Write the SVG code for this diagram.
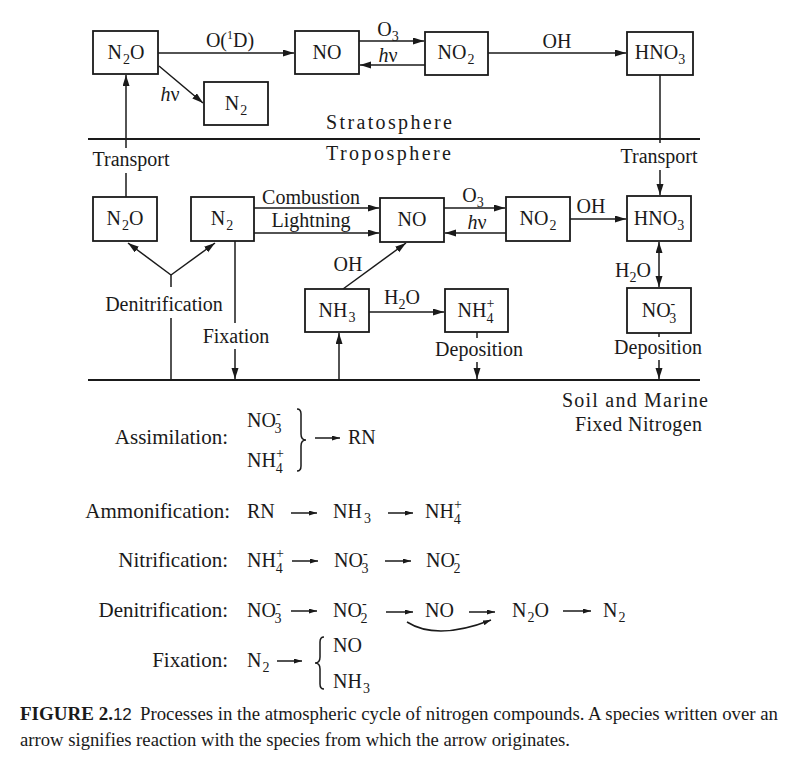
<svg xmlns="http://www.w3.org/2000/svg" width="800" height="784" viewBox="0 0 800 784">
<style>
.t{font-family:"Liberation Serif","Times New Roman",serif;font-size:20px;fill:#1a1a1a}
.lb{font-size:21px}
.m{text-anchor:middle}
.e{text-anchor:end}
.sb{font-size:14px}
.sp{font-size:14px}
.it{font-style:italic}
.box{fill:#fff;stroke:#1a1a1a;stroke-width:1.8}
.ln{fill:none;stroke:#1a1a1a;stroke-width:1.5}
.a{marker-end:url(#ah)}
.as{marker-start:url(#ah)}
.sa{marker-end:url(#sah)}
.hr{fill:none;stroke:#1a1a1a;stroke-width:2}
.cap{font-family:"Liberation Serif","Times New Roman",serif;font-size:19px;fill:#1a1a1a}
</style>
<defs>
<marker id="ah" markerUnits="userSpaceOnUse" markerWidth="12" markerHeight="8" refX="11" refY="3.5" orient="auto-start-reverse"><path d="M0,0 L11,3.5 L0,7 z" fill="#1a1a1a"/></marker>
<marker id="sah" markerUnits="userSpaceOnUse" markerWidth="9" markerHeight="6" refX="8" refY="2.5" orient="auto"><path d="M0,0 L8,2.5 L0,5 z" fill="#1a1a1a"/></marker>
</defs>
<rect width="800" height="784" fill="#fff"/>

<g id="connectors">
<line class="ln a" x1="158" y1="53" x2="294" y2="53"/>
<line class="ln a" x1="159" y1="66" x2="203" y2="103"/>
<line class="ln a" x1="359" y1="41" x2="424" y2="41"/>
<line class="ln a" x1="425" y1="65" x2="360" y2="65"/>
<line class="ln a" x1="488" y1="53" x2="626" y2="53"/>
<line class="ln" x1="660" y1="75" x2="660" y2="143"/>
<line class="ln a" x1="660" y1="170" x2="660" y2="195"/>
<line class="ln a" x1="126" y1="148" x2="126" y2="75"/>
<line class="ln" x1="126" y1="173" x2="126" y2="197"/>
<line class="hr" x1="88" y1="139" x2="700" y2="139"/>
<line class="ln a" x1="254" y1="208" x2="379" y2="208"/>
<line class="ln a" x1="254" y1="233" x2="379" y2="233"/>
<line class="ln a" x1="444" y1="208" x2="505" y2="208"/>
<line class="ln a" x1="506" y1="233" x2="445" y2="233"/>
<line class="ln a" x1="570" y1="219" x2="626" y2="219"/>
<line class="ln a as" x1="659" y1="242" x2="659" y2="287"/>
<line class="ln a" x1="171" y1="275" x2="128" y2="243"/>
<line class="ln a" x1="171" y1="275" x2="215" y2="243"/>
<line class="ln" x1="171" y1="275" x2="171" y2="287"/>
<line class="ln" x1="171" y1="318" x2="171" y2="380"/>
<line class="ln" x1="235" y1="241" x2="235" y2="323"/>
<line class="ln a" x1="235" y1="349" x2="235" y2="379"/>
<line class="ln a" x1="339" y1="380" x2="339" y2="333"/>
<line class="ln a" x1="343" y1="289" x2="406" y2="243"/>
<line class="ln a" x1="369" y1="312" x2="444" y2="312"/>
<line class="ln" x1="477" y1="332" x2="477" y2="338"/>
<line class="ln a" x1="477" y1="362" x2="477" y2="379"/>
<line class="ln" x1="659" y1="333" x2="659" y2="337"/>
<line class="ln a" x1="659" y1="360" x2="659" y2="379"/>
<line class="hr" x1="88" y1="380" x2="700" y2="380"/>
<path class="ln" d="M297,409 Q301,409 301,414 L301,434 Q301,440 306,440 Q301,440 301,446 L301,466 Q301,471 297,471" stroke-width="1.3"/>
<line class="ln sa" x1="315" y1="438" x2="340" y2="438"/>
<line class="ln sa" x1="291" y1="513" x2="317" y2="513"/>
<line class="ln sa" x1="388" y1="513" x2="413" y2="513"/>
<line class="ln sa" x1="292" y1="561" x2="318" y2="561"/>
<line class="ln sa" x1="385" y1="561" x2="411" y2="561"/>
<line class="ln sa" x1="291" y1="611" x2="317" y2="611"/>
<line class="ln sa" x1="386" y1="612" x2="413" y2="612"/>
<line class="ln sa" x1="469" y1="612" x2="495" y2="612"/>
<line class="ln sa" x1="563" y1="611" x2="591" y2="611"/>
<path class="ln sa" d="M407,622 Q437,641 491,620"/>
<line class="ln sa" x1="277" y1="661" x2="302" y2="661"/>
<path class="ln" d="M324,637 Q320,637 320,642 L320,657 Q320,663 315,663 Q320,663 320,669 L320,684 Q320,689 324,689" stroke-width="1.3"/>
</g>

<g id="labels">
<text class="t m" x="230" y="47">O(<tspan font-size="12" dy="-8">1</tspan><tspan dy="8">D)</tspan></text>
<text class="t m" x="170" y="101"><tspan class="it">h</tspan>ν</text>
<text class="t m" x="388" y="36">O<tspan class="sb" dy="5">3</tspan></text>
<text class="t m" x="388" y="62"><tspan class="it">h</tspan>ν</text>
<text class="t m" x="557" y="48">OH</text>
<text class="t" x="326" y="129" textLength="126">Stratosphere</text>
<text class="t" x="326" y="160" textLength="125">Troposphere</text>
<text class="t m" x="131" y="166">Transport</text>
<text class="t m" x="659" y="163">Transport</text>
<text class="t m" x="311" y="204">Combustion</text>
<text class="t m" x="311" y="227">Lightning</text>
<text class="t m" x="473" y="202">O<tspan class="sb" dy="5">3</tspan></text>
<text class="t m" x="477" y="229"><tspan class="it">h</tspan>ν</text>
<text class="t m" x="591" y="213">OH</text>
<text class="t m" x="633" y="277">H<tspan class="sb" dy="5">2</tspan><tspan dy="-5">O</tspan></text>
<text class="t m" x="164" y="311">Denitrification</text>
<text class="t m" x="236" y="343">Fixation</text>
<text class="t m" x="348" y="271">OH</text>
<text class="t m" x="402" y="304">H<tspan class="sb" dy="5">2</tspan><tspan dy="-5">O</tspan></text>
<text class="t m" x="479" y="356">Deposition</text>
<text class="t m" x="658" y="354">Deposition</text>
<text class="t" x="562" y="407" textLength="146">Soil and Marine</text>
<text class="t" x="575" y="431" textLength="127">Fixed Nitrogen</text>
</g>

<g id="n2o-strat"><rect class="box" x="93" y="31" width="65" height="43"/><text class="t m" x="126" y="59">N<tspan class="sb" dx="1" dy="5">2</tspan><tspan dy="-5">O</tspan></text></g>
<g id="n2-strat"><rect class="box" x="204" y="82" width="64" height="43"/><text class="t m" x="236" y="110">N<tspan class="sb" dx="1" dy="5">2</tspan></text></g>
<g id="no-strat"><rect class="box" x="295" y="31" width="64" height="43"/><text class="t m" x="327" y="59">NO</text></g>
<g id="no2-strat"><rect class="box" x="425" y="32" width="63" height="43"/><text class="t m" x="456" y="59">NO<tspan class="sb" dx="1" dy="5">2</tspan></text></g>
<g id="hno3-strat"><rect class="box" x="627" y="32" width="66" height="43"/><text class="t m" x="660" y="59">HNO<tspan class="sb" dy="5">3</tspan></text></g>

<g id="n2o-trop"><rect class="box" x="93" y="197" width="64" height="44"/><text class="t m" x="125" y="225">N<tspan class="sb" dx="1" dy="5">2</tspan><tspan dy="-5">O</tspan></text></g>
<g id="n2-trop"><rect class="box" x="191" y="197" width="63" height="44"/><text class="t m" x="222" y="225">N<tspan class="sb" dx="1" dy="5">2</tspan></text></g>
<g id="no-trop"><rect class="box" x="380" y="198" width="64" height="44"/><text class="t m" x="412" y="226">NO</text></g>
<g id="no2-trop"><rect class="box" x="506" y="197" width="64" height="44"/><text class="t m" x="538" y="225">NO<tspan class="sb" dx="1" dy="5">2</tspan></text></g>
<g id="hno3-trop"><rect class="box" x="627" y="196" width="64" height="45"/><text class="t m" x="659" y="225">HNO<tspan class="sb" dy="5">3</tspan></text></g>
<g id="nh3"><rect class="box" x="305" y="289" width="64" height="43"/><text class="t m" x="337" y="317">NH<tspan class="sb" dx="1" dy="5">3</tspan></text></g>
<g id="nh4"><rect class="box" x="445" y="289" width="63" height="43"/><text class="t m" x="476" y="317">NH<tspan class="sp" dy="-9">+</tspan><tspan class="sb" dx="-8" dy="15">4</tspan></text></g>
<g id="no3"><rect class="box" x="627" y="288" width="64" height="45"/><text class="t m" x="659" y="317">NO<tspan class="sp" dy="-9">-</tspan><tspan class="sb" dx="-6" dy="15">3</tspan></text></g>

<g id="equations">
<text class="t lb e" x="228" y="444">Assimilation:</text>
<text class="t" x="247" y="427">NO<tspan class="sp" dy="-9">-</tspan><tspan class="sb" dx="-6" dy="15">3</tspan></text>
<text class="t" x="247" y="467">NH<tspan class="sp" dy="-9">+</tspan><tspan class="sb" dx="-8" dy="15">4</tspan></text>
<text class="t" x="348" y="444">RN</text>

<text class="t lb e" x="230" y="518">Ammonification:</text>
<text class="t" x="247" y="518">RN</text>
<text class="t" x="333" y="518">NH<tspan class="sb" dx="2" dy="5">3</tspan></text>
<text class="t" x="425" y="518">NH<tspan class="sp" dy="-9">+</tspan><tspan class="sb" dx="-8" dy="15">4</tspan></text>

<text class="t lb e" x="228" y="567">Nitrification:</text>
<text class="t" x="247" y="567">NH<tspan class="sp" dy="-9">+</tspan><tspan class="sb" dx="-8" dy="15">4</tspan></text>
<text class="t" x="334" y="567">NO<tspan class="sp" dy="-9">-</tspan><tspan class="sb" dx="-6" dy="15">3</tspan></text>
<text class="t" x="426" y="567">NO<tspan class="sp" dy="-9">-</tspan><tspan class="sb" dx="-6" dy="15">2</tspan></text>

<text class="t lb e" x="228" y="617">Denitrification:</text>
<text class="t" x="247" y="617">NO<tspan class="sp" dy="-9">-</tspan><tspan class="sb" dx="-6" dy="15">3</tspan></text>
<text class="t" x="333" y="617">NO<tspan class="sp" dy="-9">-</tspan><tspan class="sb" dx="-6" dy="15">2</tspan></text>
<text class="t" x="425" y="617">NO</text>
<text class="t" x="512" y="617">N<tspan class="sb" dx="1" dy="5">2</tspan><tspan dy="-5">O</tspan></text>
<text class="t" x="603" y="617">N<tspan class="sb" dx="1" dy="5">2</tspan></text>

<text class="t lb e" x="228" y="667">Fixation:</text>
<text class="t" x="247" y="667">N<tspan class="sb" dx="1" dy="5">2</tspan></text>
<text class="t" x="333" y="652">NO</text>
<text class="t" x="333" y="688">NH<tspan class="sb" dx="1" dy="5">3</tspan></text>
</g>

<g id="caption">
<text class="cap" x="20" y="720"><tspan font-weight="bold">FIGURE 2.</tspan><tspan font-family="'Liberation Sans',Arial,sans-serif" font-size="17">12</tspan></text>
<text class="cap" x="140" y="720" textLength="638" lengthAdjust="spacingAndGlyphs">Processes in the atmospheric cycle of nitrogen compounds. A species written over an</text>
<text class="cap" x="20" y="746" textLength="550" lengthAdjust="spacingAndGlyphs">arrow signifies reaction with the species from which the arrow originates.</text>
</g>
</svg>
